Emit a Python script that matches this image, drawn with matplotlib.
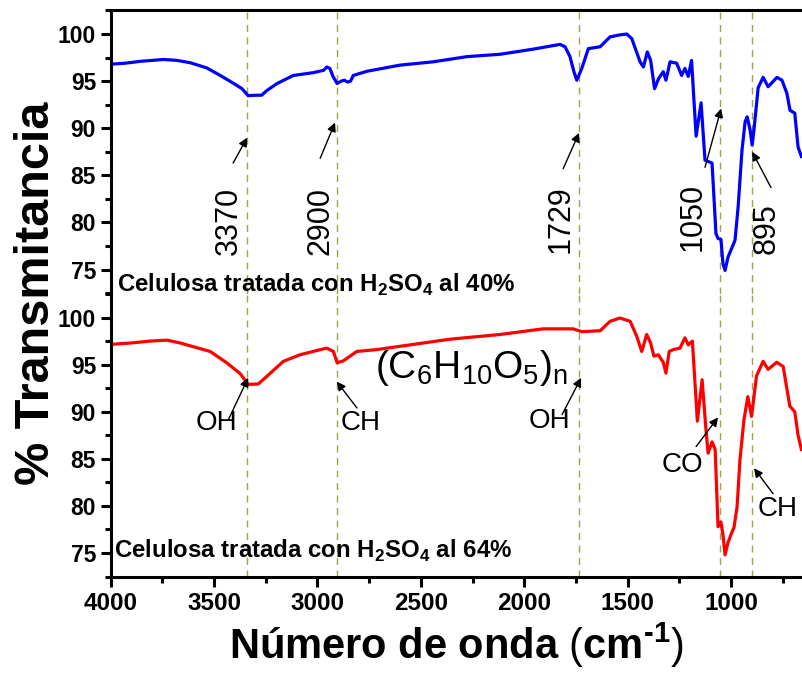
import matplotlib
matplotlib.use('Agg')
import matplotlib.pyplot as plt
from matplotlib.ticker import MultipleLocator

plt.rcParams['font.family'] = 'Liberation Sans'
plt.rcParams['mathtext.fontset'] = 'custom'
plt.rcParams['mathtext.rm'] = 'Liberation Sans'
plt.rcParams['mathtext.bf'] = 'Liberation Sans:bold'

# FTIR, celulosa tratada con H2SO4 al 40% (panel superior)
wn_40 = [4000, 3930, 3857, 3800, 3745, 3679, 3615, 3535, 3470, 3405,
         3365, 3335, 3300, 3270, 3245, 3195, 3117, 3020, 2970, 2955,
         2940, 2925, 2905, 2885, 2870, 2855, 2840, 2827, 2760, 2600,
         2440, 2277, 2117, 1955, 1827, 1803, 1779, 1760, 1746, 1722,
         1690, 1633, 1585, 1540, 1504, 1480, 1440, 1424, 1405, 1389,
         1370, 1350, 1328, 1315, 1295, 1263, 1239, 1223, 1207, 1191,
         1169, 1145, 1126, 1092, 1073, 1063, 1049, 1039, 1029, 1015,
         996, 981, 966, 947, 932, 922, 908, 898, 888, 869,
         845, 821, 778, 754, 730, 715, 692, 676, 660]
t_40 = [96.8, 96.9, 97.1, 97.2, 97.3, 97.2, 96.95, 96.4, 95.6, 94.75,
        94.2, 93.45, 93.5, 93.5, 94.0, 94.75, 95.6, 95.9, 96.15, 96.5,
        96.35, 95.5, 94.75, 95.0, 95.1, 94.9, 95.0, 95.6, 96.05, 96.7,
        97.05, 97.6, 97.85, 98.4, 98.9, 98.65, 97.6, 96.0, 95.1, 96.35,
        98.45, 98.65, 99.7, 99.9, 100.0, 99.5, 97.05, 96.5, 98.1, 97.2,
        94.2, 95.3, 96.0, 95.1, 97.05, 96.9, 95.6, 96.35, 95.5, 97.2,
        89.15, 92.7, 86.6, 86.3, 78.8, 78.3, 78.2, 75.6, 74.9, 76.3,
        77.3, 78.1, 81.6, 87.7, 90.7, 91.2, 89.8, 88.2, 90.1, 94.3,
        95.4, 94.4, 95.4, 95.1, 93.7, 91.9, 91.6, 88.0, 87.0]

# FTIR, celulosa tratada con H2SO4 al 64% (panel inferior)
wn_64 = [4000, 3900, 3810, 3728, 3664, 3600, 3519, 3439, 3374, 3335,
         3286, 3245, 3165, 3084, 3003, 2955, 2923, 2905, 2875, 2810,
         2712, 2600, 2359, 2117, 1909, 1764, 1722, 1633, 1585, 1537,
         1488, 1456, 1432, 1408, 1389, 1373, 1352, 1328, 1315, 1299,
         1279, 1247, 1223, 1207, 1187, 1163, 1140, 1121, 1111, 1092,
         1077, 1063, 1049, 1039, 1029, 1015, 996, 986, 971, 957,
         938, 919, 901, 877, 845, 821, 779, 748, 716, 692,
         676, 660]
t_64 = [97.15, 97.3, 97.5, 97.6, 97.3, 96.9, 96.4, 95.2, 94.05, 92.9,
        92.95, 93.75, 95.35, 96.05, 96.5, 96.75, 96.4, 95.2, 95.4, 96.4,
        96.6, 96.95, 97.7, 98.2, 98.8, 98.8, 98.5, 98.6, 99.6, 99.95,
        99.6, 98.0, 96.4, 98.2, 97.3, 95.9, 96.05, 95.25, 94.1, 96.4,
        96.6, 96.75, 97.85, 97.1, 97.5, 89.0, 93.4, 88.0, 85.6, 86.8,
        86.0, 77.8, 78.3, 76.9, 74.8, 76.1, 77.2, 77.7, 79.9, 84.9,
        89.1, 91.6, 89.5, 93.8, 95.35, 94.5, 95.25, 94.8, 90.6, 90.0,
        87.5, 86.0]

band_pos = [3340, 2905, 1735, 1055, 900]
band_labels = ['3370', '2900', '1729', '1050', '895']
group_labels = ['OH', 'CH', 'OH', 'CO', 'CH']
sample_labels = ['Celulosa tratada con H$_\\mathregular{2}$SO$_\\mathregular{4}$ al 40%',
                 'Celulosa tratada con H$_\\mathregular{2}$SO$_\\mathregular{4}$ al 64%']
formula = '$\\mathregular{(C_6H_{10}O_5)_n}$'

fig = plt.figure(figsize=(8.02, 6.76), dpi=100)
ax1 = fig.add_axes([0.138, 0.5658, 0.862, 0.4194])
ax2 = fig.add_axes([0.138, 0.1464, 0.862, 0.4194])
for ax in (ax1, ax2):
    ax.patch.set_visible(False)

ax1.plot(wn_40, t_40, color='#0000ff', lw=2.3)
ax2.plot(wn_64, t_64, color='#ff0000', lw=2.3)

for ax in (ax1, ax2):
    for x in band_pos:
        ax.axvline(x, color='#a3a345', lw=1.0, ls=(0, (5, 4)), zorder=0)
    ax.set_xlim(4000, 657)
    ax.set_ylim(72.45, 102.55)
    ax.yaxis.set_major_locator(MultipleLocator(5))
    ax.yaxis.set_minor_locator(MultipleLocator(2.5))
    ax.xaxis.set_major_locator(MultipleLocator(500))
    ax.xaxis.set_minor_locator(MultipleLocator(250))
    ax.spines['right'].set_visible(False)
    for s in ax.spines.values():
        s.set_linewidth(2.2)
    ax.tick_params(which='major', direction='out', length=7, width=2.2,
                   labelsize=16.5)
    ax.tick_params(which='minor', direction='out', length=4, width=2.2)
    for lbl in ax.get_yticklabels():
        lbl.set_fontweight('bold')

ax1.spines['bottom'].set_visible(False)
ax1.tick_params(axis='x', which='both', bottom=False, labelbottom=False)
ax2.spines['top'].set_visible(False)
ax2.tick_params(axis='x', labelsize=17.5)
for lbl in ax2.get_xticklabels():
    lbl.set_fontweight('bold')

arrow = dict(arrowstyle='-|>', color='black', lw=1.0, mutation_scale=13,
             shrinkA=0, shrinkB=0)

# numeros de onda, panel superior
ax1.text(3428, 80.2, band_labels[0], rotation=90, ha='center', va='center', fontsize=22)
ax1.annotate('', xy=(3340, 89.0), xytext=(3408, 86.3), arrowprops=arrow)
ax1.text(2987, 80.2, band_labels[1], rotation=90, ha='center', va='center', fontsize=22)
ax1.annotate('', xy=(2915, 90.6), xytext=(2987, 86.8), arrowprops=arrow)
ax1.text(1826, 80.3, band_labels[2], rotation=90, ha='center', va='center', fontsize=22)
ax1.annotate('', xy=(1735, 89.5), xytext=(1812, 85.7), arrowprops=arrow)
ax1.text(1184, 80.6, band_labels[3], rotation=90, ha='center', va='center', fontsize=22)
ax1.annotate('', xy=(1048, 92.1), xytext=(1126, 85.85), arrowprops=arrow)
ax1.text(826, 79.3, band_labels[4], rotation=90, ha='center', va='center', fontsize=22)
ax1.annotate('', xy=(898, 87.5), xytext=(807, 83.7), arrowprops=arrow)

# grupos funcionales, panel inferior
ax2.text(3489, 88.8, group_labels[0], ha='center', va='center', fontsize=20)
ax2.annotate('', xy=(3335, 93.6), xytext=(3432, 89.1), arrowprops=arrow)
ax2.text(2793, 88.8, group_labels[1], ha='center', va='center', fontsize=20)
ax2.annotate('', xy=(2907, 93.2), xytext=(2809, 90.4), arrowprops=arrow)
ax2.text(1879, 89.0, group_labels[2], ha='center', va='center', fontsize=20)
ax2.annotate('', xy=(1725, 93.6), xytext=(1817, 89.7), arrowprops=arrow)
ax2.text(1237, 84.3, group_labels[3], ha='center', va='center', fontsize=20)
ax2.annotate('', xy=(1063, 89.4), xytext=(1169, 86.3), arrowprops=arrow)
ax2.text(773, 79.7, group_labels[4], ha='center', va='center', fontsize=20)
ax2.annotate('', xy=(889, 84.0), xytext=(797, 81.3), arrowprops=arrow)

ax2.text(2722, 93.6, formula, ha='left', va='baseline', fontsize=28)

ax1.text(3969, 72.6, sample_labels[0], ha='left', va='baseline',
         fontsize=17.3, fontweight='bold')
ax2.text(3985, 74.45, sample_labels[1], ha='left', va='baseline',
         fontsize=17.3, fontweight='bold')

ax2.set_xlabel('Número de onda $\\mathrm{(}$cm$^{\\mathbf{\u20101}}$$\\mathrm{)}$',
               fontsize=30, fontweight='bold', labelpad=4)
fig.text(0.045, 0.566, '% Transmitancia', rotation=90, ha='center',
         va='center', fontsize=35, fontweight='bold')

fig.savefig('out.png', dpi=100)
